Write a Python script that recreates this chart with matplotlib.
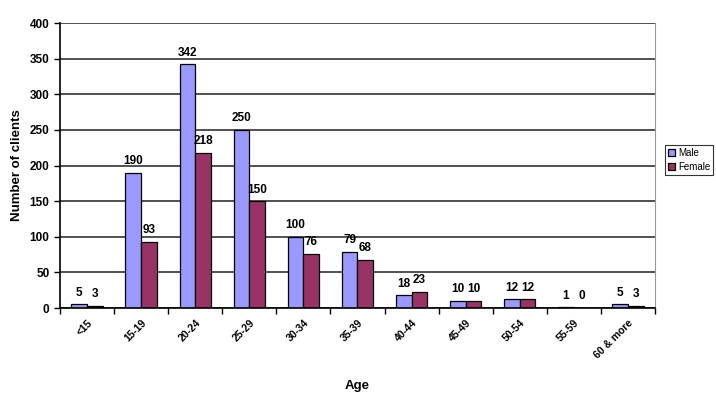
import matplotlib
matplotlib.use("Agg")
import matplotlib.pyplot as plt
import numpy as np

plt.rcParams["font.family"] = ["Liberation Sans", "DejaVu Sans"]

ages = ["<15", "15-19", "20-24", "25-29", "30-34", "35-39", "40-44", "45-49", "50-54", "55-59", "60 & more"]
male = [5, 190, 342, 250, 100, 79, 18, 10, 12, 1, 5]
female = [3, 93, 218, 150, 76, 68, 23, 10, 12, 0, 3]

x = np.arange(len(ages))
w = 0.29

fig = plt.figure(figsize=(7.16, 3.99), dpi=100)
ax = fig.add_axes([0.0838, 0.228, 0.831, 0.714])

ax.set_axisbelow(True)
ax.yaxis.grid(True, color="#222222", linewidth=1.1)
b1 = ax.bar(x - w / 2, male, w, color="#9999FF", edgecolor="black", linewidth=0.9, label="Male")
b2 = ax.bar(x + w / 2, female, w, color="#993366", edgecolor="black", linewidth=0.9, label="Female")

for bars, vals in [(b1, male), (b2, female)]:
    for r, v in zip(bars, vals):
        ax.annotate(str(v), (r.get_x() + r.get_width() / 2, v), xytext=(0, 4),
                    textcoords="offset points", ha="center", va="bottom",
                    fontsize=8.5, fontweight="bold")

ax.set_xlim(-0.5, len(ages) - 0.5)
ax.set_ylim(0, 400)
ax.set_yticks(range(0, 401, 50))
ax.set_xticks(x)
ax.set_xticklabels(ages, rotation=45, ha="right", rotation_mode="anchor", fontsize=7.5, fontweight="bold")
ax.set_xticks(np.arange(-0.5, len(ages), 1), minor=True)
ax.tick_params(axis="x", which="major", length=0, pad=7)
ax.tick_params(axis="x", which="minor", length=4, width=1, direction="out")
ax.tick_params(axis="y", length=4, width=1, labelsize=8.5)
for t in ax.get_yticklabels():
    t.set_fontweight("bold")

ax.spines["top"].set_visible(False)
ax.spines["right"].set_color("#999999")
ax.spines["left"].set_linewidth(1.2)
ax.spines["bottom"].set_linewidth(1.2)

ax.set_ylabel("Number of clients", fontsize=9.5, fontweight="bold", labelpad=5)
ax.set_xlabel("Age", fontsize=9.5, fontweight="bold", labelpad=14)

leg = ax.legend(loc="center left", bbox_to_anchor=(1.008, 0.52), fontsize=7, frameon=True,
                fancybox=False, edgecolor="black", handlelength=0.8, handleheight=0.8,
                handletextpad=0.3, borderpad=0.3, labelspacing=0.4)
leg.get_frame().set_linewidth(0.8)

fig.savefig("out.png", dpi=100)
